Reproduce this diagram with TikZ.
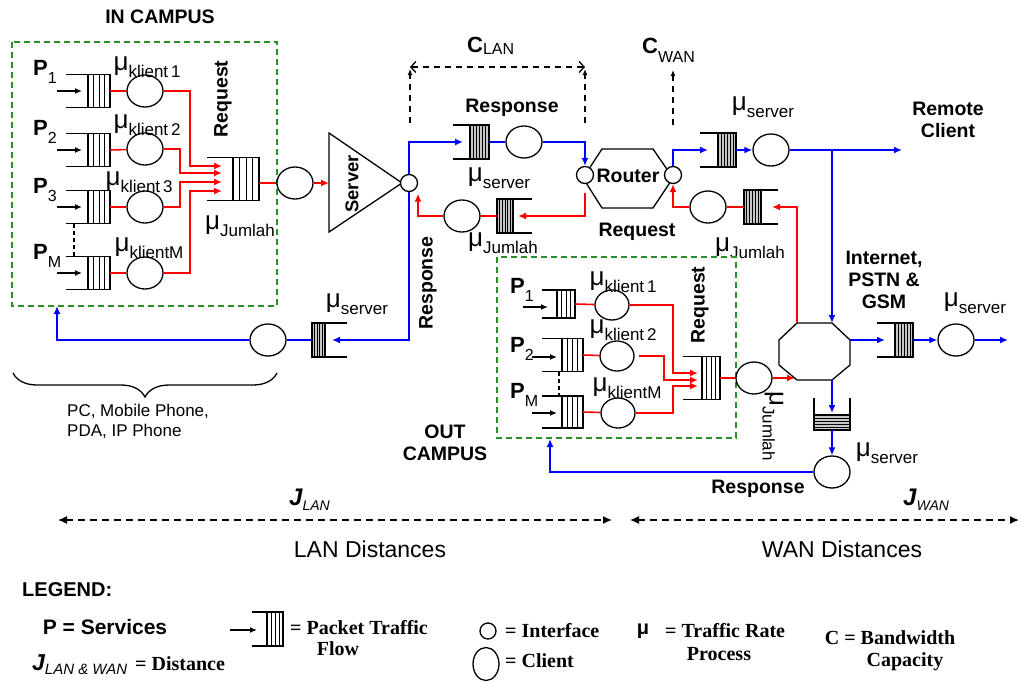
\documentclass[tikz,border=0pt]{standalone}
\usepackage{fontspec}
\setmainfont{Liberation Sans}
\newfontfamily\serifb{Liberation Serif}
\usetikzlibrary{arrows.meta,shapes.geometric,decorations.pathreplacing}

\definecolor{cgreen}{RGB}{40,145,40}
\newcommand\fsz[1]{\fontsize{#1}{#1}\selectfont}
\newcommand\mul[1]{{\fsz{26}μ}\raisebox{-7pt}{\fsz{17}#1}}
\newcommand\plab[1]{{\fsz{22}\bfseries P}\raisebox{-8pt}{\fsz{16}#1}}

\tikzset{
 shp/.style={line width=1.3pt, line join=miter},
 client/.style={draw, ellipse, line width=1.3pt, minimum width=36pt, minimum height=32pt, inner sep=0pt, fill=white},
 sclient/.style={client, minimum width=34pt, minimum height=30pt},
 iface/.style={draw, circle, line width=1.3pt, minimum size=17pt, inner sep=0pt, fill=white},
 req/.style={red, line width=1.6pt},
 resp/.style={blue, line width=1.6pt},
 tip/.style={-{Latex[length=8pt,width=7pt]}},
 btip/.style={line width=1.3pt, -{Latex[length=7pt,width=6pt]}},
 bl/.style={font=\bfseries\fontsize{19.5}{22}\selectfont, inner sep=0pt, align=center},
 ml/.style={inner sep=0pt},
 campus/.style={draw=cgreen, line width=1.5pt, dash pattern=on 6pt off 4pt},
 cdash/.style={line width=1.3pt, dash pattern=on 6pt off 5pt},
 legs/.style={font=\serifb\bfseries\fsz{20}, inner sep=0pt},
}

% name, x open, x stripe, x closed, y centre, half height, fill, divisions
\newcommand\queue[8]{%
 \fill[#7] (#3,#5-#6) rectangle (#4,#5+#6);
 \foreach \kk in {1,...,#8}{\pgfmathsetmacro\xx{#3+(#4-#3)*\kk/(#8+1)}\draw[line width=0.9pt] (\xx,#5-#6)--(\xx,#5+#6);}
 \draw[shp] (#2,#5-#6) -- (#4,#5-#6) -- (#4,#5+#6) -- (#2,#5+#6);
 \draw[shp] (#3,#5-#6) -- (#3,#5+#6);
 \coordinate (#1-o) at (#2,#5);
 \coordinate (#1-c) at (#4,#5);
}

\begin{document}
\begin{tikzpicture}[x=1pt,y=-1pt]
\useasboundingbox (0,0) rectangle (1021,681);
\fill[white] (0,0) rectangle (1021,681);

%================ IN CAMPUS =================
\node[bl] (tin) at (160,17) {IN CAMPUS};
\draw[campus] (12,42) rectangle (277,306);
\coordinate (inS) at (57,306);

\queue{q1}{66}{88}{110}{91}{16.5}{white}{3}
\queue{q2}{66}{88}{110}{150}{16.5}{white}{3}
\queue{q3}{66}{88}{110}{207}{16.5}{white}{3}
\queue{qM}{66}{88}{110}{273}{16.5}{white}{3}
\foreach \q in {q1,q2,q3,qM}{\draw[btip] ([xshift=-9pt]\q-o) -- ([xshift=16pt]\q-o);}
\draw[line width=1.2pt, dash pattern=on 4pt off 3pt] (74,224) -- (74,257);

\node[ml, anchor=base west] (p1) at (33,75) {\plab{1}};
\node[ml, anchor=base west] (p2) at (33,135) {\plab{2}};
\node[ml, anchor=base west] (p3) at (33,193) {\plab{3}};
\node[ml, anchor=base west] (pm) at (33,259) {\plab{M}};

\node[client] (c1) at (145,91) {};
\node[client] (c2) at (145,149) {};
\node[client] (c3) at (145,207) {};
\node[client] (cM) at (145,273) {};
\node[ml] at (147,67) {\mul{klient\,1}};
\node[ml] at (147,125) {\mul{klient\,2}};
\node[ml] at (139,182) {\mul{klient\,3}};
\node[ml] at (149,248) {\mul{klientM}};

\queue{qJ}{207}{233}{259}{179}{21.5}{white}{3}
\coordinate (a1) at (222,166);
\coordinate (a2) at (222,173);
\coordinate (a3) at (222,182);
\coordinate (a4) at (222,191);
\draw[req] (q1-c) -- (c1);
\draw[req] (q2-c) -- (c2);
\draw[req] (q3-c) -- (c3);
\draw[req] (qM-c) -- (cM);
\draw[req,tip] (c1.east) -| (190,166) -- (a1);
\draw[req,tip] (c2.east) -| (180,173) -- (a2);
\draw[req,tip] (c3.east) -| (180,182) -- (a3);
\draw[req,tip] (cM.east) -| (190,191) -- (a4);
\node[bl, rotate=90] at (223,99) {Request};
\node[ml] at (240,226) {\mul{Jumlah}};

\node[client] (cJ) at (295,183) {};
\draw[req] (cJ.west -| qJ-c) -- (cJ.west);

%================ SERVER =================
\draw[shp] (329,133) -- (329,232) -- (402,183) -- cycle;
\coordinate (srvL) at (329,183);
\node[font=\bfseries\fsz{18.5}, rotate=90, inner sep=0pt] (srv) at (352,184) {Server};
\draw[req,tip] (cJ.east) -- (srvL);
\node[iface] (ifS) at (409,183) {};

%================ LAN =================
\queue{qR1}{453}{470}{489}{142}{17}{gray!45}{5}
\node[client] (cR1) at (524,142) {};
\draw[resp,tip] (ifS.north) |- ([xshift=10pt]qR1-o);
\draw[resp] (qR1-c) -- (cR1);

\draw[shp] (583,178) -- (602,149) -- (653,149) -- (673,178) -- (653,208) -- (602,208) -- cycle;
\node[bl] (router) at (628,176) {Router};
\node[iface] (ifRL) at (585,175) {};
\node[iface] (ifRR) at (673,175) {};
\draw[resp,tip] (cR1.east) -| (ifRL.north);

\queue{qL1}{532}{513}{497}{216}{17}{gray!45}{5}
\node[client] (cL1) at (462,216) {};
\draw[req,tip] ([yshift=-9pt]ifRL.south) |- ([xshift=-14pt]qL1-o);
\draw[req] (qL1-c) -- (cL1);
\draw[req,tip] (cL1.west) -| ([xshift=9pt,yshift=-1.5pt]ifS.south);

\queue{qL2}{347}{325}{312}{340}{17}{gray!45}{4}
\node[client] (cL2) at (268,340) {};
\draw[resp,tip] (ifS.south) |- ([xshift=-15pt]qL2-o);
\draw[resp] (qL2-c) -- (cL2);
\draw[resp,tip] (cL2.west) -| (inS);

\node[ml] at (357,304) {\mul{server}};
\node[ml] at (499,178) {\mul{server}};
\node[ml] at (503,243) {\mul{Jumlah}};
\node[bl] at (512,108) {Response};
\node[bl] at (637,232) {Request};
\node[bl, rotate=90] at (428,283) {Response};

% capacities
\node[ml, anchor=base west] at (467,52) {{\bfseries\fsz{22}C}\raisebox{-2pt}{\fsz{16}LAN}};
\node[ml, anchor=base west] at (642,53) {{\bfseries\fsz{22}C}\raisebox{-9pt}{\fsz{16}WAN}};
\draw[cdash, {Straight Barb[length=5pt,width=11pt]}-{Straight Barb[length=5pt,width=11pt]}] (410,67) -- (585,67);
\draw[cdash, -{Latex[length=6pt,width=5pt]}] (410,123) -- (410,69);
\draw[cdash, -{Latex[length=6pt,width=5pt]}] (585,123) -- (585,69);
\draw[cdash, -{Latex[length=6pt,width=5pt]}] (673,125) -- (673,70);

%================ WAN =================
\queue{qW1}{700}{718}{736}{150}{17}{gray!45}{5}
\node[client] (cW1) at (771,150) {};
\draw[resp,tip] (ifRR.north) |- ([xshift=8pt]qW1-o);
\draw[resp,tip] (qW1-c) -- (cW1);
\coordinate (rc) at (902,150);
\draw[resp,tip] (cW1) -- (rc);
\node[ml] at (763,107) {\mul{server}};
\node[bl] at (948,120) {Remote\\Client};

\coordinate (octTL) at (797,323);
\coordinate (octTR) at (832,323);
\coordinate (octRT) at (850,340);
\coordinate (octB) at (832,380);
\coordinate (octBL) at (797,380);
\draw[shp] (797,323) -- (832,323) -- (850,340) -- (850,365) -- (832,380) -- (797,380) -- (779,365) -- (779,340) -- cycle;
\coordinate (jn) at (832,150);
\draw[resp,tip] (jn) -- (octTR);

\queue{qW2}{778}{761}{744}{207}{17}{gray!45}{5}
\node[client] (cW2) at (708,207) {};
\draw[req,tip] (octTL) |- ([xshift=-6pt]qW2-o);
\draw[req] (qW2-c) -- (cW2);
\draw[req,tip] (cW2.west) -| (ifRR.south);
\node[ml] at (750,248) {\mul{Jumlah}};
\node[bl] at (884,280) {Internet,\\PSTN \&\\GSM};

\queue{qW3}{877}{895}{913}{340}{17}{gray!45}{5}
\node[client] (cW3) at (956,340) {};
\draw[resp,tip] (octRT) -- ([xshift=8pt]qW3-o);
\draw[resp,tip] (qW3-c) -- (cW3);
\coordinate (wout) at (1008,340);
\draw[resp,tip] (cW3) -- (wout);
\node[ml] at (975,303) {\mul{server}};

% vertical queue
\fill[gray!45] (814,415) rectangle (850,430);
\foreach \yy in {418,421,424,427}{\draw[line width=0.9pt] (814,\yy) -- (850,\yy);}
\draw[shp] (814,398) -- (814,430) -- (850,430) -- (850,398);
\draw[shp] (814,415) -- (850,415);
\coordinate (vqin) at (832,413);
\coordinate (vqout) at (832,430);
\node[client] (cW4) at (832,472) {};
\draw[resp,tip] (octB) -- (vqin);
\draw[resp,tip] (vqout) -- (cW4);
\node[ml] at (887,453) {\mul{server}};
\coordinate (outS) at (550,439);
\draw[resp,tip] (cW4.west) -| (outS);
\node[bl] at (758,489) {Response};

%================ OUT CAMPUS =================
\draw[campus] (497,257) rectangle (736,438);
\queue{qO1}{542}{557}{575}{304}{14}{white}{3}
\queue{qO2}{542}{562}{583}{355}{16.5}{white}{3}
\queue{qOM}{542}{562}{583}{412}{16}{white}{3}
\draw[btip] (523,307) -- (548,307);
\draw[btip] (532,357) -- (557,357);
\draw[btip] (532,413) -- (557,413);
\draw[line width=1.2pt, dash pattern=on 4pt off 3pt] (559,372) -- (559,396);

\node[ml, anchor=base west] at (510,293) {\plab{1}};
\node[ml, anchor=base west] at (510,352) {\plab{2}};
\node[ml, anchor=base west] at (510,398) {\plab{M}};

\node[sclient] (cO1) at (612,305) {};
\node[sclient] (cO2) at (617,356) {};
\node[sclient] (cOM) at (618,413) {};
\node[ml] at (623,282) {\mul{klient\,1}};
\node[ml] at (623,330) {\mul{klient\,2}};
\node[ml] at (627,388) {\mul{klientM}};

\queue{qOJ}{683}{702}{720}{378}{21.5}{white}{3}
\coordinate (oa1) at (698,373);
\coordinate (oa2) at (698,380);
\coordinate (oa3) at (698,386);
\draw[req] (qO1-c) -- (cO1);
\draw[req] (qO2-c) -- (cO2);
\draw[req] (qOM-c) -- (cOM);
\draw[req,tip] (cO1.east) -| (673,373) -- (oa1);
\draw[req,tip] ([xshift=4pt]cO2.east) -| (664,380) -- (oa2);
\draw[req,tip] (cOM.east) -| (673,386) -- (oa3);
\node[bl, rotate=90] at (700,305) {Request};

\node[client] (cOJ) at (754,378) {};
\draw[req] (qOJ-c) -- (cOJ);
\coordinate (octIn) at (795,378);
\draw[req,tip] (cOJ) -- (octIn);
\node[ml, rotate=-90] at (773,426) {\mul{Jumlah}};
\node[bl] at (445,443) {OUT\\CAMPUS};

%================ brace =================
\draw[line width=1.3pt, decorate, decoration={brace, amplitude=24pt, mirror}] (13,373) -- (277,373);
\node[ml, anchor=north west, align=left, font=\fontsize{17}{20}\selectfont] at (67,404) {PC, Mobile Phone,\\PDA, IP Phone};

%================ distances =================
\node[ml, anchor=base west] at (289,505) {{\bfseries\itshape\fsz{24}J}\raisebox{-5pt}{\itshape\fsz{14}LAN}};
\node[ml, anchor=base west] at (903,505) {{\bfseries\itshape\fsz{24}J}\raisebox{-5pt}{\itshape\fsz{14}WAN}};
\draw[line width=1.4pt, dash pattern=on 7pt off 5pt, {Latex[length=9pt,width=8pt]}-{Latex[length=9pt,width=8pt]}] (58,520) -- (612,520);
\draw[line width=1.4pt, dash pattern=on 7pt off 5pt, {Latex[length=9pt,width=8pt]}-{Latex[length=9pt,width=8pt]}] (630,520) -- (1019,520);
\node[ml, font=\fsz{23}] at (370,549) {LAN Distances};
\node[ml, font=\fsz{23}] at (842,549) {WAN Distances};

%================ legend =================
\node[ml, anchor=base west, font=\bfseries\fsz{20}] at (22,596) {LEGEND:};
\node[ml, font=\bfseries\fsz{21}] at (105,627) {P = Services};
\queue{lq}{252}{267}{283}{629}{17}{white}{3}
\draw[btip] (230,630) -- (257,630);
\node[legs, anchor=west] at (290,628) {= Packet Traffic};
\node[legs] at (338,649) {Flow};
\node[ml, anchor=base west] at (32,670) {{\bfseries\itshape\fsz{23}J}\raisebox{-4pt}{\itshape\fsz{15}LAN \& WAN}\hspace{8pt}{\serifb\bfseries\fsz{20}= Distance}};
\node[draw, circle, line width=1.3pt, minimum size=16pt, inner sep=0pt] (lif) at (488,631) {};
\node[legs, anchor=west] at (505,631) {= Interface};
\node[draw, ellipse, line width=1.3pt, minimum width=26pt, minimum height=33pt, inner sep=0pt] (lcl) at (486,664) {};
\node[legs, anchor=west] at (505,661) {= Client};
\node[ml, font=\bfseries\fsz{20}] at (643,631) {μ};
\node[legs, anchor=west] at (665,631) {= Traffic Rate};
\node[legs] at (719,654) {Process};
\node[legs] at (890,638) {C = Bandwidth};
\node[legs] at (905,662) {Capacity};
\end{tikzpicture}
\end{document}
